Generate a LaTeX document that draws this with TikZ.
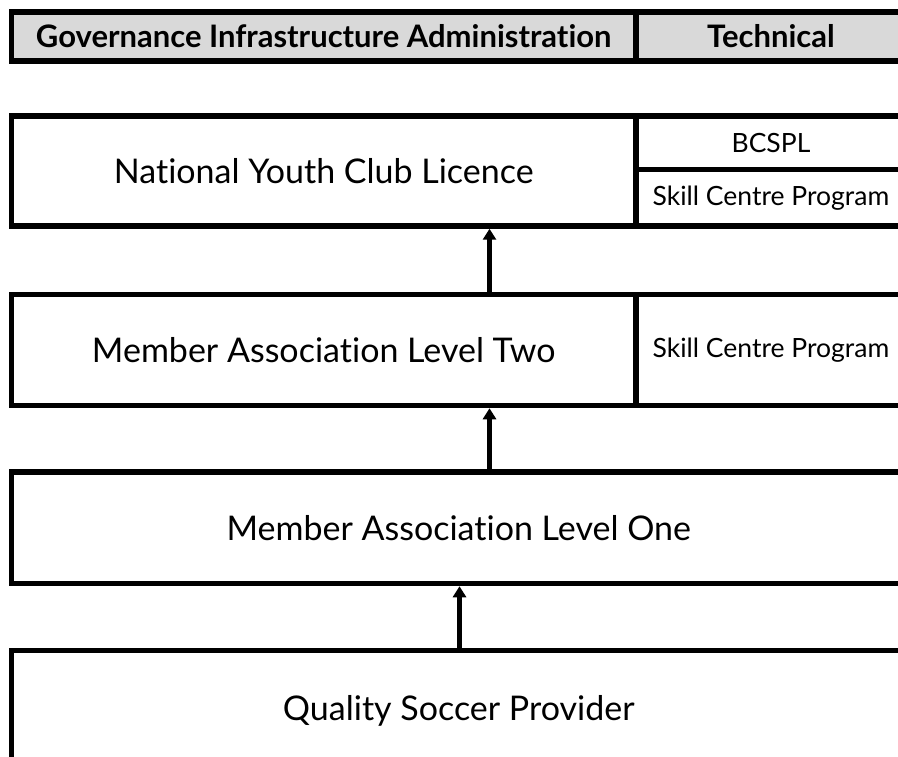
\documentclass[tikz,border=0pt]{standalone}
\usepackage{fontspec}
\setmainfont{Lato}[Ligatures=NoCommon]
\usetikzlibrary{arrows.meta}

\begin{document}
\begin{tikzpicture}[x=1pt,y=-1pt]
  \useasboundingbox (0,0) rectangle (898,757);
  \clip (0,0) rectangle (898,757);
  \begin{scope}[every node/.style={rectangle,draw,line width=5.5pt,inner sep=0pt,
      font=\fontsize{34}{40}\selectfont},
    head/.style={fill=black!15,minimum height=49pt,font=\bfseries\fontsize{31}{36}\selectfont},
    small/.style={font=\fontsize{26.5}{30}\selectfont}]
    % header row
    \node[head,minimum width=624.5pt] (gov) at (323.75,36.5) {Governance Infrastructure Administration};
    \node[head,minimum width=270pt] (tech) at (771,36.5) {Technical};
    % licence rows
    \node[minimum width=624.5pt,minimum height=110pt] (nycl) at (323.75,171) {National Youth Club Licence};
    \node[small,minimum width=270pt,minimum height=53.5pt] (bcspl) at (771,142.75) {BCSPL};
    \node[small,minimum width=270pt,minimum height=56.5pt] (scpa) at (771,197.75) {Skill Centre Program};
    \node[minimum width=624.5pt,minimum height=111pt] (ma2) at (323.75,350) {Member Association Level Two};
    \node[small,minimum width=270pt,minimum height=111pt] (scpb) at (771,350) {Skill Centre Program};
    \node[minimum width=894.5pt,minimum height=111.5pt] (ma1) at (458.75,527.75) {Member Association Level One};
    \node[minimum width=894.5pt,minimum height=120pt] (qsp) at (458.75,710.5) {Quality Soccer Provider};
  \end{scope}
  \begin{scope}[every edge/.style={draw=black,line width=4.5pt,-{Triangle[length=11pt,width=13pt]}}]
    \path ([xshift=165.75pt]ma2.north) edge ([xshift=165.75pt]nycl.south);
    \path ([xshift=30.75pt]ma1.north) edge ([xshift=165.75pt]ma2.south);
    \path ([xshift=0.75pt]qsp.north) edge ([xshift=0.75pt]ma1.south);
  \end{scope}
\end{tikzpicture}
\end{document}
